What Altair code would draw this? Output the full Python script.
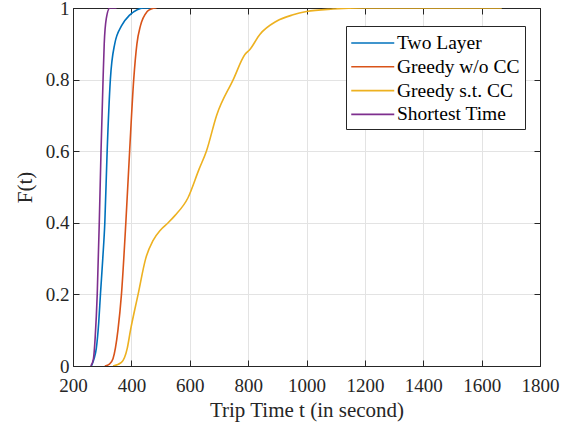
import altair as alt
import pandas as pd

# Empirical CDF samples (trip time in seconds, cumulative fraction)
two_layer_t = [263, 272, 280, 288, 294, 302, 309, 317, 328, 343, 366, 394, 420, 440, 480]
two_layer_f = [0.0, 0.02, 0.05, 0.12, 0.2, 0.3, 0.4, 0.6, 0.8, 0.9, 0.95, 0.98, 0.995, 1.0, 1.0]

greedy_wo_t = [309, 325, 337, 354, 366, 381, 394, 408, 419, 431, 454, 470, 480, 486]
greedy_wo_f = [0.0, 0.005, 0.02, 0.1, 0.2, 0.4, 0.6, 0.8, 0.9, 0.95, 0.99, 0.998, 1.0, 1.0]

greedy_st_t = [337, 366, 386, 397, 423, 449, 474, 500, 526, 549, 594, 632, 657, 692,
               749, 789, 806, 840, 897, 954, 1000, 1091, 1193, 1400, 1669]
greedy_st_f = [0.0, 0.01, 0.05, 0.1, 0.2, 0.3, 0.35, 0.38, 0.4, 0.42, 0.47, 0.55, 0.6, 0.7,
               0.8, 0.87, 0.884, 0.926, 0.963, 0.981, 0.99, 0.997, 1.0, 1.0, 1.0]

shortest_t = [261, 270, 276, 283, 290, 296, 303, 307, 314, 326, 349]
shortest_f = [0.0, 0.02, 0.08, 0.2, 0.4, 0.6, 0.8, 0.9, 0.97, 1.0, 1.0]

series_names = ["Two Layer", "Greedy w/o CC", "Greedy s.t. CC", "Shortest Time"]
series_colors = ["#0072BD", "#D95319", "#EDB120", "#7E2F8E"]

x_ticks = list(range(200, 1801, 200))
y_ticks = [0, 0.2, 0.4, 0.6, 0.8, 1.0]

rows = []
for name, ts, fs in zip(series_names,
                        [two_layer_t, greedy_wo_t, greedy_st_t, shortest_t],
                        [two_layer_f, greedy_wo_f, greedy_st_f, shortest_f]):
    for i, (t, f) in enumerate(zip(ts, fs)):
        rows.append({"series": name, "t": t, "F": f, "order": i})
df = pd.DataFrame(rows)

FONT = "Liberation Serif"
INK = "#262626"
TICK_IN = alt.ExprRef("-6")

x_scale = alt.Scale(domain=[200, 1800], nice=False)
y_scale = alt.Scale(domain=[0, 1], nice=False)

# Legend swatch: a long horizontal stroke drawn to the left of the nominal symbol box
SWATCH_W = 21.5
LEG_PAD = 5

lines = alt.Chart(df).mark_line(strokeWidth=1.6, clip=True, interpolate="monotone").encode(
    x=alt.X("t:Q", scale=x_scale,
            axis=alt.Axis(orient="bottom", values=x_ticks, format="d",
                          title="Trip Time t (in second)", tickSize=TICK_IN,
                          labelPadding=16, titlePadding=4, labelFlush=False,
                          labelOverlap=False)),
    y=alt.Y("F:Q", scale=y_scale,
            axis=alt.Axis(orient="left", values=y_ticks, format="~g",
                          title="F(t)", tickSize=TICK_IN, labelFlush=False,
                          labelPadding=10, titlePadding=10)),
    color=alt.Color("series:N",
                    scale=alt.Scale(domain=series_names, range=series_colors),
                    legend=alt.Legend(title=None, orient="none", legendX=273, legendY=18,
                                      symbolType="M-3,0H1", symbolSize=SWATCH_W ** 2,
                                      symbolOffset=4 + SWATCH_W - LEG_PAD,
                                      symbolStrokeWidth=1.6, labelFont=FONT,
                                      labelFontSize=19.5, labelColor="#000000",
                                      labelOffset=1.5,
                                      rowPadding=1.8, padding=LEG_PAD,
                                      fillColor="white", strokeColor=INK,
                                      labelLimit=300)),
    order="order:Q",
)

# Mirror axes on the top and right edges (ticks only)
frame = alt.Chart(df).mark_point(opacity=0).encode(
    x=alt.X("t:Q", scale=x_scale,
            axis=alt.Axis(orient="top", values=x_ticks, labels=False, title=None,
                          grid=False, tickSize=TICK_IN)),
    y=alt.Y("F:Q", scale=y_scale,
            axis=alt.Axis(orient="right", values=y_ticks, labels=False, title=None,
                          grid=False, tickSize=TICK_IN)),
)

chart = alt.layer(lines, frame).resolve_axis(
    x="independent", y="independent"
).properties(
    width=467, height=358,
    autosize=alt.AutoSizeParams(type="none"),
    padding={"left": 73, "top": 8, "right": 35, "bottom": 62},
).configure_axis(
    labelFont=FONT, titleFont=FONT, labelFontSize=19, titleFontSize=21,
    labelColor=INK, titleColor=INK, domainColor=INK, tickColor=INK,
    gridColor="#e3e3e3", gridWidth=1, titleFontWeight="normal",
).configure_view(stroke=INK, strokeWidth=1)

chart.save("out.html", embed_options={"renderer": "svg", "actions": False})
